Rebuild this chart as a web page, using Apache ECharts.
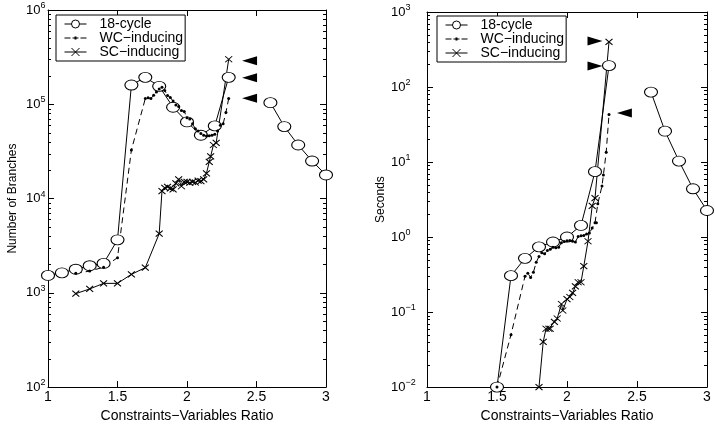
<!DOCTYPE html>
<html>
<head>
<meta charset="utf-8">
<script src="https://cdn.jsdelivr.net/npm/echarts@6/dist/echarts.min.js"></script>
<style>
  html, body { margin: 0; padding: 0; background: #fff; }
  #chart { width: 715px; height: 428px; }
</style>
</head>
<body>
<div id="chart"></div>
<script>
"use strict";
// ---- left panel: number of branches ----
const cycleRatioL = [1.0, 1.1, 1.2, 1.3, 1.4, 1.5, 1.6, 1.7, 1.8, 1.9, 2.0, 2.1, 2.2, 2.3, 2.45, 2.6, 2.7, 2.8, 2.9, 3.0];
const cycleBranches = [1530, 1630, 1780, 1940, 2050, 3650, 160000, 193000, 155000, 93000, 65000, 47000, 59000, 193000, null, 104000, 58000, 37000, 25000, 17800];

const wcRatioL = [1.2, 1.3, 1.4, 1.5, 1.6, 1.7, 1.72, 1.74, 1.76, 1.78, 1.8, 1.82, 1.84, 1.86, 1.88, 1.9, 1.92, 1.94, 1.96, 1.98, 2.0, 2.02, 2.04, 2.06, 2.08, 2.1, 2.12, 2.14, 2.16, 2.18, 2.2, 2.22, 2.24, 2.26, 2.28, 2.3];
const wcBranches = [1610, 1700, 1870, 2360, 32700, 115000, 117000, 115000, 125000, 135000, 145000, 152000, 140000, 124000, 118000, 108000, 98000, 95000, 86000, 84000, 72000, 70000, 62000, 55000, 52000, 49000, 47000, 46000, 46500, 47000, 48000, 52000, 60000, 62000, 82000, 115000];

const scRatioL = [1.2, 1.3, 1.4, 1.5, 1.6, 1.7, 1.8, 1.82, 1.84, 1.86, 1.88, 1.9, 1.92, 1.94, 1.96, 1.98, 2.0, 2.02, 2.04, 2.06, 2.08, 2.1, 2.12, 2.14, 2.16, 2.17, 2.19, 2.21, 2.3];
const scBranches = [980, 1100, 1260, 1260, 1570, 1850, 4240, 12000, 13000, 13300, 12800, 12500, 14500, 16000, 13500, 15000, 15000, 14700, 15000, 14800, 15500, 15300, 16000, 18500, 24500, 28000, 37000, 39000, 300000];

const arrowRatioL = [2.45, 2.45, 2.45];
const arrowBranches = [290000, 191000, 116000];
const arrowTurnL = [90, 90, 90];

// ---- right panel: seconds ----
const cycleRatioR = [1.5, 1.6, 1.7, 1.8, 1.9, 2.0, 2.1, 2.2, 2.3, 2.45, 2.6, 2.7, 2.8, 2.9, 3.0];
const cycleSeconds = [0.01, 0.306, 0.52, 0.74, 0.86, 1.0, 1.43, 7.45, 193, null, 85.5, 25.8, 10.3, 4.4, 2.26];

const wcRatioR = [1.5, 1.6, 1.7, 1.72, 1.74, 1.76, 1.78, 1.8, 1.82, 1.84, 1.86, 1.88, 1.9, 1.92, 1.94, 1.96, 1.98, 2.0, 2.02, 2.04, 2.06, 2.08, 2.1, 2.12, 2.14, 2.16, 2.18, 2.2, 2.21, 2.22, 2.25, 2.26, 2.28, 2.3];
const wcSeconds = [0.01, 0.05, 0.30, 0.33, 0.29, 0.34, 0.46, 0.55, 0.62, 0.60, 0.66, 0.69, 0.73, 0.72, 0.73, 0.84, 0.87, 0.89, 0.90, 0.88, 0.86, 1.02, 1.04, 1.05, 1.10, 1.13, 1.32, 1.55, 1.55, 2.77, 4.8, 6.7, 13.5, 43];

const scRatioR = [1.8, 1.83, 1.85, 1.87, 1.88, 1.91, 1.93, 1.96, 1.97, 2.0, 2.02, 2.04, 2.06, 2.08, 2.1, 2.12, 2.15, 2.18, 2.2, 2.3];
const scSeconds = [0.01, 0.04, 0.06, 0.06, 0.06, 0.074, 0.082, 0.128, 0.105, 0.149, 0.159, 0.18, 0.22, 0.25, 0.25, 0.41, 0.88, 2.6, 3.3, 400];

const arrowRatioR = [2.2, 2.2, 2.41];
const arrowSeconds = [410, 190, 45];
const arrowTurnR = [-90, -90, 90];

const seriesNames = ["18-cycle", "WC\u2212inducing", "SC\u2212inducing"];
const xTitle = "Constraints\u2212Variables Ratio";

const FONT = "Arial, 'Liberation Sans', sans-serif";
const pairs = (xs, ys) => xs.map((x, i) => [x, ys[i] === null ? "-" : ys[i]]);
const supLabel = (v) => {
    const e = Math.round(Math.log10(v));
    return `{b|10}{s|${e < 0 ? "\u2212" + (-e) : e}}`;
};
// minor tick values 2..9 x 10^n of a log axis
const minorTicks = (lo, hi) => {
    const out = [];
    for (let n = lo; n < hi; n++) {
        for (let k = 2; k <= 9; k++) {
            out.push([1, k * Math.pow(10, n)]);
        }
    }
    return out;
};

const panels = [
    { left: 48, top: 10, width: 278, height: 389, min: 1e2, max: 1e6, lmin: 2, lmax: 6, name: "Number of Branches", nameGap: 29, labelMargin: 22, legendLeft: 56, legendTop: 15 },
    { left: 427, top: 12, width: 280, height: 387, min: 1e-2, max: 1e3, lmin: -2, lmax: 3, name: "Seconds", nameGap: 34, labelMargin: 36, legendLeft: 437, legendTop: 16 },
];

const grid = [];
const xAxis = [];
const yAxis = [];
const legend = [];
const lineSt = { show: true, onZero: false, lineStyle: { color: "#000", width: 1 } };
const tickSt = { inside: true, length: 6, lineStyle: { color: "#000" } };
panels.forEach((p, gi) => {
    grid.push({ left: p.left, top: p.top, width: p.width, height: p.height });
    xAxis.push({
        type: "value", gridIndex: gi, min: 1, max: 3, interval: 0.5, position: "bottom",
        axisLine: lineSt, splitLine: { show: false }, axisTick: tickSt,
        axisLabel: { color: "#000", fontFamily: FONT, fontSize: 14, margin: 3 },
        name: xTitle, nameLocation: "middle", nameGap: 16,
        nameTextStyle: { color: "#000", fontFamily: FONT, fontSize: 14 },
    });
    xAxis.push({
        type: "value", gridIndex: gi, min: 1, max: 3, interval: 0.5, position: "top",
        axisLine: lineSt, splitLine: { show: false }, axisTick: tickSt,
        axisLabel: { show: false },
    });
    const rich = {
        b: { fontFamily: FONT, fontSize: 13, color: "#000", lineHeight: 18 },
        s: { fontFamily: FONT, fontSize: 9, color: "#000", verticalAlign: "top", lineHeight: 10 },
    };
    yAxis.push({
        type: "log", gridIndex: gi, min: p.min, max: p.max, logBase: 10, position: "left",
        axisLine: lineSt, splitLine: { show: false }, axisTick: tickSt,
        axisLabel: { formatter: supLabel, rich, align: "left", margin: p.labelMargin },
        name: p.name, nameLocation: "middle", nameGap: p.nameGap,
        nameTextStyle: { color: "#000", fontFamily: FONT, fontSize: 12 },
    });
    yAxis.push({
        type: "log", gridIndex: gi, min: p.min, max: p.max, logBase: 10, position: "right",
        axisLine: lineSt, splitLine: { show: false }, axisTick: tickSt,
        axisLabel: { show: false },
    });
    legend.push({
        left: p.legendLeft, top: p.legendTop, orient: "vertical",
        backgroundColor: "#fff", borderColor: "#000", borderWidth: 1, borderRadius: 0,
        padding: [2, 2, 2, 8], itemGap: 0, itemWidth: 22, itemHeight: 10,
        selectedMode: false,
        itemStyle: { borderWidth: 1 },
        lineStyle: { width: 1 },
        textStyle: { fontFamily: FONT, fontSize: 14, color: "#000", lineHeight: 12, padding: [0, 0, 0, 8] },
        data: [
            { name: seriesNames[0] },
            { name: seriesNames[1], icon: "path://M0,0M0,4.5H6V5.5H0ZM8,4.5H10V5.5H8ZM10,3.5H12V6.5H10ZM12,4.5H14V5.5H12ZM16,4.5H22V5.5H16ZM22,10" },
            { name: seriesNames[2] },
        ],
    });
});

// short inward ticks at 2..9 x 10^n on both sides of each box
const minorTickSeries = (gi, p) => ({
    type: "custom", name: "minor", xAxisIndex: gi * 2, yAxisIndex: gi * 2,
    data: minorTicks(p.lmin, p.lmax), silent: true, animation: false, clip: false,
    renderItem: (params, api) => {
        const a = api.coord([1, api.value(1)]);
        const b = api.coord([3, api.value(1)]);
        const y = Math.round(a[1]) + 0.5;
        const st = { stroke: "#000", lineWidth: 1 };
        return {
            type: "group",
            children: [
                { type: "line", shape: { x1: Math.round(a[0]), y1: y, x2: Math.round(a[0]) + 3, y2: y }, style: st },
                { type: "line", shape: { x1: Math.round(b[0]), y1: y, x2: Math.round(b[0]) - 3, y2: y }, style: st },
            ],
        };
    },
});

const xMark = "path://M0,0L10,10M0,10L10,0";
const makeSeries = (gi, name, xs, ys, style) => Object.assign({
    type: "line", name, xAxisIndex: gi * 2, yAxisIndex: gi * 2,
    data: pairs(xs, ys), clip: false, connectNulls: false, animation: false,
    lineStyle: { color: "#000", width: 1 },
}, style);
const cycleStyle = { symbol: "circle", symbolSize: [13, 10], itemStyle: { color: "#fff", borderColor: "#000", borderWidth: 1 } };
const wcStyle = { symbol: "circle", symbolSize: 3, itemStyle: { color: "#000" }, lineStyle: { color: "#000", width: 1, type: [6, 4] } };
const scStyle = { symbol: xMark, symbolSize: [7, 6], itemStyle: { color: "#000", borderColor: "#000", borderWidth: 1 } };

const arrowSeries = (gi, xs, ys, turns) => ({
    type: "scatter", name: "arrows", xAxisIndex: gi * 2, yAxisIndex: gi * 2,
    data: xs.map((x, i) => ({ value: [x, ys[i]], symbolRotate: turns[i] })),
    symbol: "triangle", symbolSize: [9, 15], itemStyle: { color: "#000", opacity: 1 }, animation: false, silent: true,
});

const series = [
    minorTickSeries(0, panels[0]),
    minorTickSeries(1, panels[1]),
    makeSeries(0, seriesNames[0], cycleRatioL, cycleBranches, cycleStyle),
    makeSeries(0, seriesNames[1], wcRatioL, wcBranches, wcStyle),
    makeSeries(0, seriesNames[2], scRatioL, scBranches, scStyle),
    arrowSeries(0, arrowRatioL, arrowBranches, arrowTurnL),
    makeSeries(1, seriesNames[0], cycleRatioR, cycleSeconds, cycleStyle),
    makeSeries(1, seriesNames[1], wcRatioR, wcSeconds, wcStyle),
    makeSeries(1, seriesNames[2], scRatioR, scSeconds, scStyle),
    arrowSeries(1, arrowRatioR, arrowSeconds, arrowTurnR),
];

const chart = echarts.init(document.getElementById("chart"), null, { renderer: "canvas" });
chart.setOption({ backgroundColor: "#fff", animation: false, grid, xAxis, yAxis, legend, series });
</script>
</body>
</html>
